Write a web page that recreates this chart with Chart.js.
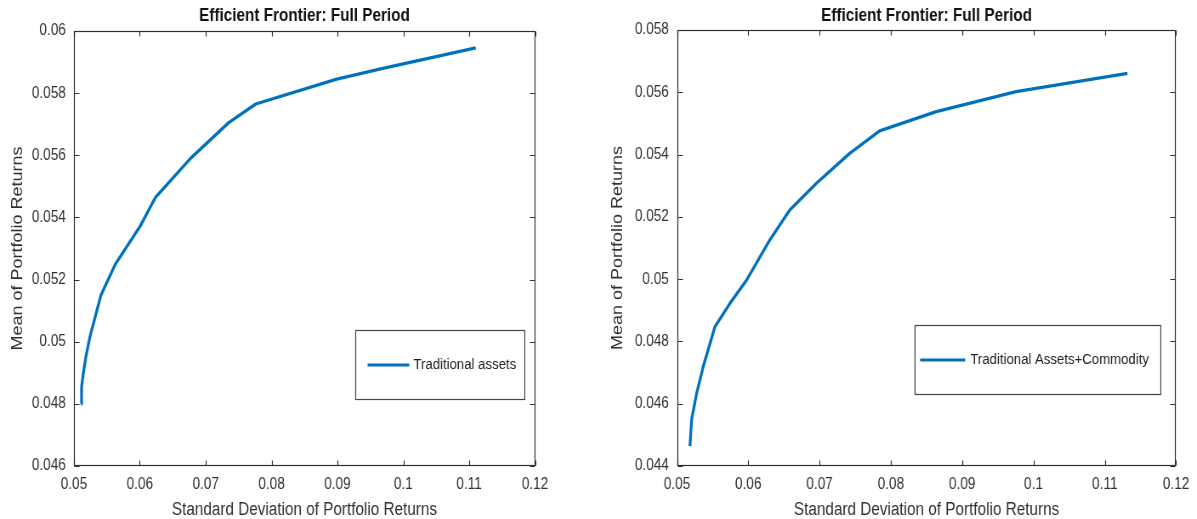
<!DOCTYPE html>
<html>
<head>
<meta charset="utf-8">
<title>Efficient Frontier: Full Period</title>
<script src="https://cdn.jsdelivr.net/npm/chart.js@4.4.0/dist/chart.umd.min.js"></script>
<style>
  body { margin: 0; background: #fff; }
  .row { display: flex; width: 1197px; height: 519px; }
  canvas { display: block; }
  /* the figure is horizontally condensed, so the canvases are drawn wider and squeezed */
  #frontierLeft { width: 600px; height: 519px; }
  #frontierRight { width: 597px; height: 519px; }
</style>
</head>
<body>
<div class="row">
  <canvas id="frontierLeft" width="706" height="519" style="width:600px;height:519px"></canvas>
  <canvas id="frontierRight" width="702" height="519" style="width:597px;height:519px"></canvas>
</div>
<script>
// Values
const traditionalRisk = [0.05106, 0.05116, 0.05142, 0.05182, 0.05243, 0.0541, 0.0563, 0.0600, 0.0624, 0.0677, 0.0735, 0.0776, 0.0899, 0.0969, 0.1110];
const traditionalReturn = [0.0480, 0.04855, 0.04898, 0.04952, 0.05016, 0.0515, 0.0525, 0.0537, 0.05465, 0.0559, 0.05705, 0.05765, 0.05845, 0.0588, 0.05946];

const commodityRisk = [0.05182, 0.05205, 0.05275, 0.05368, 0.05532, 0.05742, 0.05976, 0.06302, 0.06582, 0.06956, 0.07422, 0.07842, 0.08636, 0.09756, 0.11318];
const commodityReturn = [0.04464, 0.04548, 0.04633, 0.04719, 0.04847, 0.04922, 0.04997, 0.05126, 0.05222, 0.05308, 0.05404, 0.05476, 0.05538, 0.05602, 0.05661];

const riskTicks = [0.05, 0.06, 0.07, 0.08, 0.09, 0.1, 0.11, 0.12];
const leftReturnTicks = [0.046, 0.048, 0.05, 0.052, 0.054, 0.056, 0.058, 0.06];
const rightReturnTicks = [0.044, 0.046, 0.048, 0.05, 0.052, 0.054, 0.056, 0.058];

const chartTitle = 'Efficient Frontier: Full Period';
const xTitle = 'Standard Deviation of Portfolio Returns';
const yTitle = 'Mean of Portfolio Returns';

const SANS = "'Liberation Sans', Arial, Helvetica, sans-serif";
const TEXT = '#303030';
const AXIS = '#303030';
const LINE = '#0072BD';

function toPoints(xs, ys) {
    return xs.map((x, i) => ({ x: x, y: ys[i] }));
}

function fmt(v) {
    return String(parseFloat(Number(v).toFixed(4)));
}

// MATLAB style box, inward ticks, title and legend
const matlabAxes = {
    id: 'matlabAxes',
    afterDatasetsDraw(chart, args, opts) {
        const { ctx, chartArea: a, scales: { x, y } } = chart;
        const L = Math.round(a.left) + 0.5, R = Math.round(a.right) - 0.5;
        const T = Math.round(a.top) + 0.5, B = Math.round(a.bottom) - 0.5;
        const tl = 5;
        ctx.save();
        ctx.strokeStyle = AXIS;
        ctx.lineWidth = 1.2;
        ctx.strokeRect(L, T, R - L, B - T);
        ctx.beginPath();
        x.ticks.forEach(t => {
            const px = Math.round(x.getPixelForValue(t.value)) + 0.5;
            ctx.moveTo(px, B); ctx.lineTo(px, B - tl);
            ctx.moveTo(px, T); ctx.lineTo(px, T + tl);
        });
        y.ticks.forEach(t => {
            const py = Math.round(y.getPixelForValue(t.value)) + 0.5;
            ctx.moveTo(L, py); ctx.lineTo(L + tl + 1, py);
            ctx.moveTo(R, py); ctx.lineTo(R - tl - 1, py);
        });
        ctx.stroke();

        // title over the plot box
        ctx.fillStyle = '#111';
        ctx.font = 'bold 18px ' + SANS;
        ctx.textAlign = 'center';
        ctx.textBaseline = 'middle';
        ctx.fillText(chartTitle, (a.left + a.right) / 2, opts.titleY);

        // legend box
        const ds = chart.data.datasets[0];
        const bx = a.right - opts.boxRight;
        const by = Math.round(a.bottom - opts.boxBottom) + 0.5;
        ctx.fillStyle = '#fff';
        ctx.fillRect(bx, by, opts.boxW, opts.boxH);
        ctx.strokeStyle = '#444';
        ctx.lineWidth = 1.2;
        ctx.strokeRect(bx, by, opts.boxW, opts.boxH);
        const cy = by + opts.boxH / 2;
        ctx.strokeStyle = ds.borderColor;
        ctx.lineWidth = 3;
        ctx.beginPath();
        ctx.moveTo(bx + opts.lineStart, cy);
        ctx.lineTo(bx + opts.lineStart + opts.lineLen, cy);
        ctx.stroke();
        ctx.fillStyle = '#222';
        ctx.font = '15.5px ' + SANS;
        ctx.textAlign = 'left';
        ctx.fillText(ds.label, bx + opts.textStart, cy);
        ctx.restore();
    }
};

function makeChart(id, label, xs, ys, yTicks, layout, legend) {
    const ctx = document.getElementById(id);
    return new Chart(ctx, {
        type: 'scatter',
        data: {
            datasets: [{
                label: label,
                data: toPoints(xs, ys),
                showLine: true,
                borderColor: LINE,
                backgroundColor: LINE,
                borderWidth: 3.3,
                pointRadius: 0,
                tension: 0,
                borderJoinStyle: 'round'
            }]
        },
        options: {
            responsive: false,
            animation: false,
            events: [],
            devicePixelRatio: 1,
            layout: { padding: { left: 0, right: layout.right, top: layout.top, bottom: 0 } },
            scales: {
                x: {
                    type: 'linear',
                    min: riskTicks[0],
                    max: riskTicks[riskTicks.length - 1],
                    afterBuildTicks: s => { s.ticks = riskTicks.map(v => ({ value: v })); },
                    afterFit: s => { s.height = 519 - layout.bottom; },
                    grid: { display: false, drawTicks: false },
                    border: { display: false },
                    ticks: { callback: fmt, font: { family: SANS, size: 16 }, color: TEXT, padding: 9, maxRotation: 0, autoSkip: false },
                    title: { display: true, text: xTitle, color: TEXT, font: { family: SANS, size: 18 }, padding: { top: 0, bottom: -2 } }
                },
                y: {
                    type: 'linear',
                    min: yTicks[0],
                    max: yTicks[yTicks.length - 1],
                    afterBuildTicks: s => { s.ticks = yTicks.map(v => ({ value: v })); },
                    afterFit: s => { s.width = layout.left; },
                    grid: { display: false, drawTicks: false },
                    border: { display: false },
                    ticks: { callback: fmt, font: { family: SANS, size: 16 }, color: TEXT, padding: 9.5, autoSkip: false },
                    title: { display: true, text: yTitle, color: TEXT, font: { family: SANS, size: 18 }, padding: { top: 10, bottom: 0 } }
                }
            },
            plugins: {
                legend: { display: false },
                tooltip: { enabled: false },
                title: { display: false },
                matlabAxes: legend
            }
        },
        plugins: [matlabAxes]
    });
}

// horizontal sizes are in the unsqueezed canvas units (screen px / 0.85)
makeChart('frontierLeft', 'Traditional assets', traditionalRisk, traditionalReturn, leftReturnTicks,
    { left: 87, right: 76.5, top: 31, bottom: 466 },
    { titleY: 16, boxRight: 211, boxBottom: 136, boxW: 199, boxH: 69, lineStart: 14, lineLen: 49, textStart: 68 });

makeChart('frontierRight', 'Traditional Assets+Commodity', commodityRisk, commodityReturn, rightReturnTicks,
    { left: 90.5, right: 23, top: 30, bottom: 466 },
    { titleY: 16, boxRight: 307, boxBottom: 141, boxW: 289, boxH: 69, lineStart: 6, lineLen: 53, textStart: 65 });
</script>
</body>
</html>
